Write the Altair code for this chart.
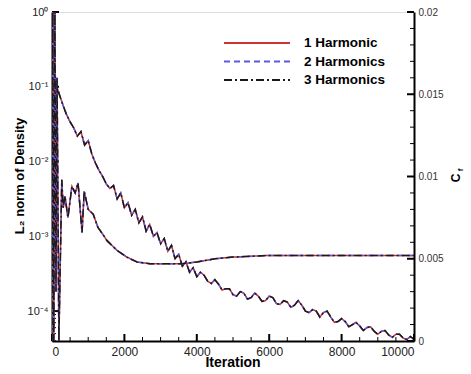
import altair as alt
import pandas as pd

# ---------------- data ----------------
series_names = ["1 Harmonic", "2 Harmonics", "3 Harmonics"]
series_colors = ["#cc3333", "#5a5ae0", "#1a1a1a"]
series_dashes = [[1, 0], [6, 4], [8, 3, 2, 3]]

# L2 norm of density, stored as log10 exponent
l2_iter = [0, 50, 100, 150, 200] + list(range(300, 10001, 100))
l2_exp = [
    0.0, -0.60, -0.92, -1.02, -1.10,
    -1.24, -1.37, -1.47, -1.55, -1.66, -1.60, -1.78, -1.72,           # 300-1000
    -1.90, -2.02, -2.12, -2.20, -2.30, -2.36, -2.32, -2.50, -2.42, -2.62,  # 1100-2000
    -2.55, -2.72, -2.64, -2.82, -2.74, -2.93, -2.84, -3.00, -2.95, -3.10,  # 2100-3000
    -3.03, -3.20, -3.12, -3.30, -3.24, -3.40, -3.34, -3.48, -3.42, -3.54,  # 3100-4000
    -3.48, -3.52, -3.60, -3.63, -3.58, -3.64, -3.72, -3.70, -3.70, -3.78,  # 4100-5000
    -3.80, -3.74, -3.76, -3.84, -3.82, -3.76, -3.80, -3.87, -3.86, -3.80,  # 5100-6000
    -3.82, -3.90, -3.91, -3.86, -3.88, -3.95, -3.92, -3.86, -3.92, -4.00,  # 6100-7000
    -4.02, -3.98, -4.00, -4.08, -4.02, -4.00, -4.08, -4.15, -4.14, -4.10,  # 7100-8000
    -4.14, -4.21, -4.18, -4.15, -4.20, -4.26, -4.22, -4.21, -4.27, -4.31,  # 8100-9000
    -4.27, -4.26, -4.32, -4.35, -4.31, -4.31, -4.36, -4.38, -4.34, -4.38,  # 9100-10000
]

# friction coefficient Cf (right axis)
cf_iter = [0, 20, 50, 80, 110, 140, 190, 270, 310, 360, 440, 550, 640, 720,
           830, 890, 1000, 1140, 1270, 1400, 1520, 1800, 2070, 2350, 2700,
           3200, 3600, 4000, 4500, 5000, 6000, 7000, 8000, 9000, 10000]
cf_val = [0.0, 0.02, 0.0, 0.02, 0.003, 0.016, 0.0, 0.0098, 0.0081, 0.0088,
          0.0075, 0.0094, 0.0090, 0.0096, 0.0066, 0.0091, 0.0080, 0.0077,
          0.0069, 0.0065, 0.0061, 0.0055, 0.0051, 0.0048, 0.0047, 0.0047,
          0.0047, 0.0048, 0.0050, 0.0051, 0.0052, 0.0052, 0.0052, 0.0052, 0.0052]

x_major = [0, 2000, 4000, 6000, 8000, 10000]
x_minor = [500, 1000, 1500, 2500, 3000, 3500, 4500, 5000, 5500,
           6500, 7000, 7500, 8500, 9000, 9500]
l_major = [1, 0.1, 0.01, 0.001, 0.0001]
l_minor = [k * 10.0 ** e for e in range(-5, 0) for k in range(2, 10)]
l_minor = [v for v in l_minor if v >= 10 ** -4.4]
r_major = [0, 0.005, 0.01, 0.015, 0.02]
r_minor = [0.001, 0.002, 0.003, 0.004, 0.006, 0.007, 0.008, 0.009,
           0.011, 0.012, 0.013, 0.014, 0.016, 0.017, 0.018, 0.019]

# ---------------- tables ----------------
l2_rows, cf_rows = [], []
for s in series_names:
    for it, e in zip(l2_iter, l2_exp):
        l2_rows.append({"series": s, "iter": it, "L2": 10 ** e})
    for it, c in zip(cf_iter, cf_val):
        cf_rows.append({"series": s, "iter": it, "Cf": c})
l2_df = pd.DataFrame(l2_rows)
cf_df = pd.DataFrame(cf_rows)

W, H = 362, 329
FONT = "Liberation Sans"

x_scale = alt.Scale(domain=[0, 10000], nice=False)
x_axis = alt.Axis(values=x_major, ticks=False, grid=False, title=None,
                  domainColor="black", domainWidth=2, labelFontSize=12,
                  labelColor="#222", labelPadding=5, labelFont=FONT, format="d")
yl_scale = alt.Scale(type="log", domain=[10 ** -4.4, 1], nice=False)
yl_axis = alt.Axis(values=l_major, ticks=False, grid=False, title=None, orient="left",
                   domainColor="black", domainWidth=2, labelFontSize=11,
                   labelColor="#222", labelPadding=4, labelFont=FONT,
                   labelExpr="datum.value >= 0.99 ? '10⁰' : datum.value >= 0.099 ? '10⁻¹' : datum.value >= 0.0099 ? '10⁻²' : datum.value >= 0.00099 ? '10⁻³' : '10⁻⁴'")
yr_scale = alt.Scale(domain=[0, 0.02], nice=False)
yr_axis = alt.Axis(values=r_major, ticks=False, grid=False, title=None, orient="right",
                   domainColor="black", domainWidth=2, labelFontSize=10,
                   labelColor="#333", labelPadding=4, labelFont=FONT, format="~g")

color_enc = alt.Color("series:N", scale=alt.Scale(domain=series_names, range=series_colors), legend=None)
dash_enc = alt.StrokeDash("series:N", scale=alt.Scale(domain=series_names, range=series_dashes), legend=None)

l2_lines = alt.Chart(l2_df).mark_line(strokeWidth=1.5, clip=True).encode(
    x=alt.X("iter:Q", scale=x_scale, axis=x_axis),
    y=alt.Y("L2:Q", scale=yl_scale, axis=yl_axis),
    color=color_enc, strokeDash=dash_enc, order="iter:Q",
)

def ydf(vals):
    return pd.DataFrame({"v": vals})

lmaj = alt.Chart(ydf(l_major)).mark_rule(color="black", strokeWidth=2).encode(
    y=alt.Y("v:Q", scale=yl_scale, axis=yl_axis), x=alt.value(0), x2=alt.value(7))
lmin = alt.Chart(ydf(l_minor)).mark_rule(color="black", strokeWidth=1).encode(
    y=alt.Y("v:Q", scale=yl_scale, axis=yl_axis), x=alt.value(0), x2=alt.value(4))
xmaj = alt.Chart(ydf(x_major)).mark_rule(color="black", strokeWidth=2).encode(
    x=alt.X("v:Q", scale=x_scale, axis=x_axis), y=alt.value(H), y2=alt.value(H - 7))
xmin = alt.Chart(ydf(x_minor)).mark_rule(color="black", strokeWidth=1).encode(
    x=alt.X("v:Q", scale=x_scale, axis=x_axis), y=alt.value(H), y2=alt.value(H - 4))

left = alt.layer(l2_lines, lmin, lmaj, xmin, xmaj)

cf_lines = alt.Chart(cf_df).mark_line(strokeWidth=1.5, clip=True).encode(
    x=alt.X("iter:Q", scale=x_scale, axis=x_axis),
    y=alt.Y("Cf:Q", scale=yr_scale, axis=yr_axis),
    color=color_enc, strokeDash=dash_enc, order="iter:Q",
)
rmaj = alt.Chart(ydf(r_major)).mark_rule(color="black", strokeWidth=2).encode(
    y=alt.Y("v:Q", scale=yr_scale, axis=yr_axis), x=alt.value(W - 7), x2=alt.value(W))
rmin = alt.Chart(ydf(r_minor)).mark_rule(color="black", strokeWidth=1).encode(
    y=alt.Y("v:Q", scale=yr_scale, axis=yr_axis), x=alt.value(W - 4), x2=alt.value(W))

right = alt.layer(cf_lines, rmin, rmaj)

def txt(s, x, y, size, angle=0, align="center", weight="bold"):
    props = dict(fontSize=size, fontWeight=weight, font=FONT, align=align,
                 baseline="middle", color="black")
    if angle:
        props["angle"] = angle
    return alt.Chart(pd.DataFrame({"t": [s]})).mark_text(**props).encode(
        text="t:N", x=alt.value(x), y=alt.value(y))

texts = [
    txt("L₂ norm of Density", -32, 164, 13, angle=270),
    txt("Iteration", 181, 351, 14),
    txt("C", 404, 166, 12, angle=270),
    txt("f", 409, 158, 8, angle=270),
]

# legend (manual, inside the plot)
legend_layers = []
for i, (s, c, d) in enumerate(zip(series_names, series_colors, series_dashes)):
    yy = 31 + i * 18.5
    legend_layers.append(
        alt.Chart(pd.DataFrame({"s": [s]})).mark_rule(color=c, strokeWidth=2, strokeDash=d).encode(
            x=alt.value(172), x2=alt.value(238), y=alt.value(yy)))
    legend_layers.append(txt(s, 252, yy, 13.5, align="left"))

chart = alt.layer(left, right, *texts, *legend_layers).resolve_scale(
    y="independent"
).properties(
    width=W, height=H,
    autosize=alt.AutoSizeParams(type="none"),
    padding={"left": 52, "top": 12, "right": 57, "bottom": 33},
).configure_view(stroke="black", strokeWidth=2).configure(background="white")

chart.save("out.html", embed_options={"renderer": "svg", "actions": False})
